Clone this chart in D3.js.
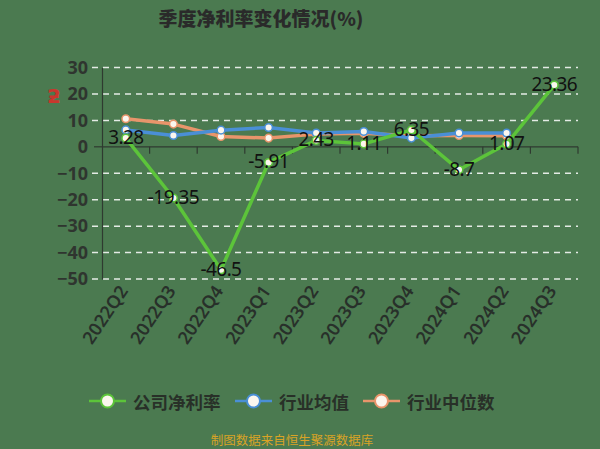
<!DOCTYPE html>
<html><head><meta charset="utf-8">
<script src="https://cdn.jsdelivr.net/npm/d3@7"></script>
<style>html,body{margin:0;padding:0;background:#4b7a50;}svg{display:block;}</style>
</head><body>
<svg id="c" width="600" height="449"></svg>
<script>
const categories = ["2022Q2","2022Q3","2022Q4","2023Q1","2023Q2","2023Q3","2023Q4","2024Q1","2024Q2","2024Q3"];
const companyNetMargin = [3.28,-19.35,-46.5,-5.91,2.43,1.11,6.35,-8.7,1.07,23.36];
const industryMean = [6.4,4.3,6.3,7.3,5.2,5.8,3.3,5.2,5.2,null];
const industryMedian = [10.6,8.6,3.9,3.3,4.8,5.1,4.2,4.3,4.2,null];
const yTicks = [30,20,10,0,-10,-20,-30,-40,-50];
const seriesNames = ["公司净利率","行业均值","行业中位数"];
const colors = {company:"#5cc43a", mean:"#4a8fd6", median:"#e8956b"};

const svg = d3.select("#c");
const W = 600, H = 449;
svg.append("rect").attr("width",W).attr("height",H).attr("fill","#4b7a50");

const x = d3.scaleBand().domain(categories).range([102,578]).padding(0);
const y = d3.scaleLinear().domain([-50,30]).range([279,67.5]);
const cx = d => x(d) + x.bandwidth()/2;

// title
svg.append("text").attr("x",261).attr("y",26).attr("text-anchor","middle")
  .attr("font-family","'Noto Sans CJK SC','Noto Sans',sans-serif").attr("font-weight","900")
  .attr("font-size",19).attr("fill","#2a2a2a").text("季度净利率变化情况(%)");

// red logo glyph
svg.append("text").attr("x",54).attr("y",96).attr("text-anchor","middle")
  .attr("dominant-baseline","central")
  .attr("font-family","DejaVu Sans").attr("font-weight","bold").attr("font-size",20)
  .attr("fill","#c8372d").text("ƻ");

// grid lines
const grid = svg.append("g");
yTicks.filter(t=>t!==0).forEach(t=>{
  grid.append("line").attr("x1",92).attr("x2",578).attr("y1",y(t)).attr("y2",y(t))
    .attr("stroke","#ffffff").attr("stroke-opacity",0.85).attr("stroke-width",1.5)
    .attr("stroke-dasharray","6,5");
});

// y axis
const yAxis = d3.axisLeft(y).tickValues(yTicks).tickSize(0).tickPadding(14);
const gy = svg.append("g").attr("transform","translate(102,0)").call(yAxis);
gy.select(".domain").attr("stroke","#2f3a30").attr("stroke-width",1.2);
gy.selectAll("text").attr("font-family","'Noto Sans',sans-serif").attr("font-weight","bold")
  .attr("font-size",18).attr("fill","#2f352f");
svg.append("line").attr("x1",94).attr("x2",102).attr("y1",y(0)).attr("y2",y(0)).attr("stroke","#2f3a30").attr("stroke-width",1.2);

// zero axis with ticks at band boundaries
const gx = svg.append("g").attr("transform",`translate(0,${y(0)})`);
gx.append("line").attr("x1",102).attr("x2",578).attr("stroke","#2f3a30").attr("stroke-width",1.2);
categories.forEach((c,i)=>{
  const bx = x(c) + x.bandwidth();
  gx.append("line").attr("x1",bx).attr("x2",bx).attr("y1",0).attr("y2",7).attr("stroke","#2f3a30").attr("stroke-width",1.2);
});

// x labels rotated
categories.forEach(c=>{
  svg.append("text").attr("transform",`translate(${cx(c)+3},${291}) rotate(-56)`)
    .attr("text-anchor","end").attr("font-family","'Noto Sans',sans-serif").attr("font-weight","600")
    .attr("font-size",18).attr("fill","#28302a").text(c);
});

function drawSeries(vals,color){
  const pts = categories.map((c,i)=>({c,v:vals[i]})).filter(d=>d.v!=null);
  const line = d3.line().x(d=>cx(d.c)).y(d=>y(d.v));
  svg.append("path").datum(pts).attr("d",line).attr("fill","none")
    .attr("stroke",color).attr("stroke-width",3.5).attr("stroke-linejoin","round");
  svg.selectAll(null).data(pts).enter().append("circle")
    .attr("cx",d=>cx(d.c)).attr("cy",d=>y(d.v)).attr("r",3.8)
    .attr("fill","#fbf6ee").attr("stroke",color).attr("stroke-width",1.5);
}
drawSeries(industryMedian,colors.median);
drawSeries(industryMean,colors.mean);
drawSeries(companyNetMargin,colors.company);

// data labels
categories.forEach((c,i)=>{
  svg.append("text").attr("x",cx(c)).attr("y",y(companyNetMargin[i])-1)
    .attr("text-anchor","middle").attr("dominant-baseline","central")
    .attr("font-family","'Noto Sans',sans-serif").attr("font-size",19).attr("fill","#111")
    .attr("letter-spacing","-0.6").text(companyNetMargin[i]);
});

// legend
const legendY = 401;
const legendItems = [
  {name:seriesNames[0], color:colors.company, x0:89},
  {name:seriesNames[1], color:colors.mean, x0:235},
  {name:seriesNames[2], color:colors.median, x0:363}
];
legendItems.forEach(it=>{
  svg.append("line").attr("x1",it.x0).attr("x2",it.x0+37).attr("y1",legendY).attr("y2",legendY)
    .attr("stroke",it.color).attr("stroke-width",2.5);
  svg.append("circle").attr("cx",it.x0+18.5).attr("cy",legendY).attr("r",6.5)
    .attr("fill","#fbf6ee").attr("stroke",it.color).attr("stroke-width",2);
  svg.append("text").attr("x",it.x0+44).attr("y",legendY).attr("dominant-baseline","central")
    .attr("font-family","'Noto Sans CJK SC',sans-serif").attr("font-weight","bold")
    .attr("font-size",17.5).attr("fill","#283028").text(it.name);
});

// source
svg.append("text").attr("x",292).attr("y",439).attr("text-anchor","middle")
  .attr("dominant-baseline","central").attr("font-family","'Noto Sans CJK SC',sans-serif")
  .attr("font-size",12.5).attr("fill","#d9a326").text("制图数据来自恒生聚源数据库");
</script>
</body></html>
